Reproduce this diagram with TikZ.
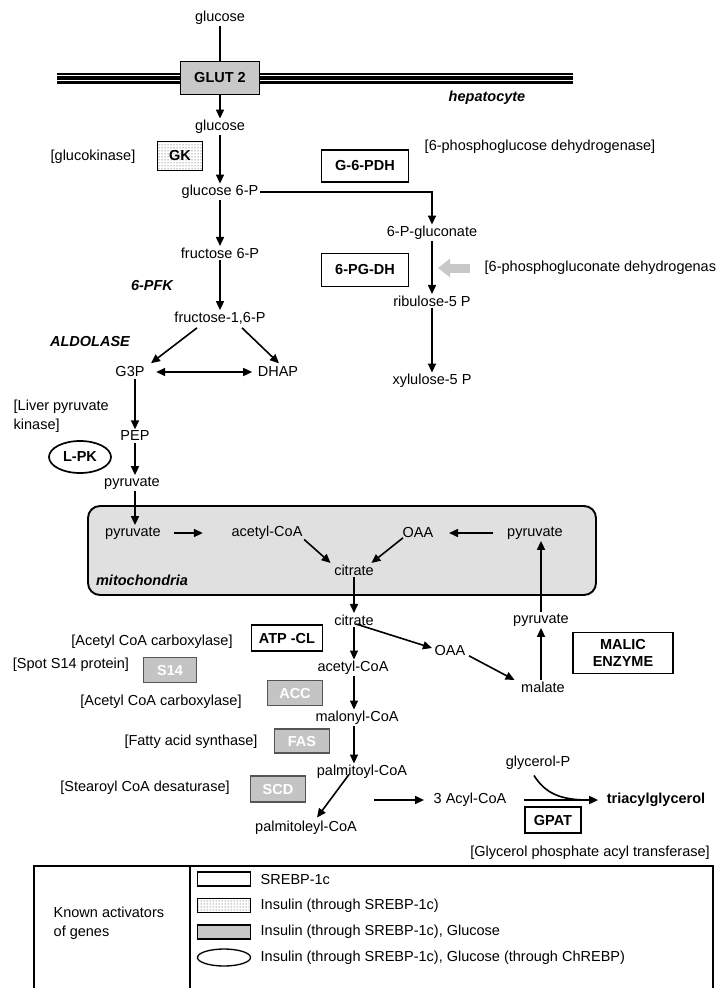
\documentclass[tikz,border=0pt]{standalone}
\usepackage{fontspec}
\setmainfont{Liberation Sans}
\usetikzlibrary{arrows.meta,patterns,shapes.geometric,calc}
\newcommand\lblfont{\fontsize{14.5}{17}\selectfont}
\definecolor{boxgray}{RGB}{200,200,200}
\definecolor{mitogray}{RGB}{224,224,224}
\definecolor{enzgray}{RGB}{196,196,196}
\definecolor{enzedge}{RGB}{85,85,85}
\definecolor{arrgray}{RGB}{200,200,200}
\begin{document}
\begin{tikzpicture}[x=1pt,y=-1pt,
  lbl/.style={font=\lblfont, inner sep=1.5pt},
  blbl/.style={font=\lblfont\bfseries, inner sep=1.5pt},
  bilbl/.style={font=\lblfont\bfseries\itshape, inner sep=1.5pt},
  enz/.style={draw, line width=1.7pt, fill=white, font=\lblfont\bfseries, inner sep=0pt, align=center},
  genz/.style={draw=enzedge, line width=1.7pt, fill=enzgray, text=white, font=\lblfont\bfseries, inner sep=0pt},
  arr/.style={-{Triangle[length=9pt,width=8pt]}, line width=1.6pt},
  arrb/.style={{Triangle[length=9pt,width=8pt]}-{Triangle[length=9pt,width=8pt]}, line width=1.6pt},
  garr/.style={-{Triangle[length=12pt,width=18pt]}, line width=9pt, draw=arrgray, color=arrgray},
  legbox/.style={draw, line width=1.3pt, inner sep=0pt, minimum width=53pt, minimum height=14pt}]
\useasboundingbox (0,0) rectangle (716,988);

% membrane
\draw[line width=11pt] (57,78) -- (573,78);
\draw[white, line width=1.1pt] (57,75.3) -- (573,75.3);
\draw[white, line width=1.1pt] (57,80.7) -- (573,80.7);

% top part
\node[lbl] (glu0) at (220,18) {glucose};
\node[enz, fill=boxgray, minimum width=79pt, minimum height=33pt] (glut) at (220,78) {GLUT 2};
\draw[line width=1.1pt] (glu0.south) -- (glut.north);
\node[bilbl] (hep) at (487,98) {hepatocyte};
\node[lbl] (glu1) at (220,127) {glucose};
\node[lbl] (gkl) at (93,157) {[glucokinase]};
\node[draw, line width=1.7pt, preaction={fill=white}, pattern=dots, pattern color=black!80, minimum width=45pt, minimum height=29pt, inner sep=0pt] (gk) at (180,156) {};
\node[font=\lblfont\bfseries] at (gk) {GK};
\node[enz, minimum width=87pt, minimum height=32pt] (g6pdh) at (365,166) {G-6-PDH};
\node[lbl] (g6pdhl) at (540,147) {[6-phosphoglucose dehydrogenase]};
\node[lbl] (g6p) at (220,192) {glucose 6-P};
\node[lbl] (pg) at (432,233) {6-P-gluconate};
\node[lbl] (f6p) at (220,253) {fructose 6-P};
\node[enz, minimum width=87pt, minimum height=33pt] (pgdh) at (365,270) {6-PG-DH};
\node[lbl, anchor=west] (pgdhl) at (483,268) {[6-phosphogluconate dehydrogenas};
\node[lbl] (ribu) at (432,301) {ribulose-5 P};
\node[lbl] (xyl) at (432,381) {xylulose-5 P};
\node[bilbl] (pfk) at (152,286) {6-PFK};
\node[lbl] (f16p) at (220,318) {fructose-1,6-P};
\node[bilbl] (ald) at (90,342) {ALDOLASE};
\node[lbl] (g3p) at (130,372) {G3P};
\node[lbl] (dhap) at (278,372) {DHAP};
\node[lbl, anchor=north west, align=left, font=\fontsize{14.5}{19}\selectfont] (lpkl) at (12,398) {[Liver pyruvate\\kinase]};
\node[lbl] (pep) at (135,436) {PEP};
\node[draw, ellipse, line width=1.7pt, minimum width=62pt, minimum height=32pt, inner sep=0pt, font=\lblfont\bfseries] (lpk) at (80,457) {L-PK};
\node[lbl] (pyr0) at (132,483) {pyruvate};

\draw[arr] (glut.south) -- (glu1.north);
\draw[arr] (glu1.south) -- (g6p.north);
\draw[arr] (g6p.east) -| (pg.north);
\draw[arr] (g6p.south) -- (f6p.north);
\draw[arr] (f6p.south) -- (f16p.north);
\draw[arr] (pg.south) -- (ribu.north);
\draw[arr] (ribu.south) -- (xyl.north);
\draw[garr] ($(pgdhl.west)+(-13,0)$) coordinate (gs) -- ++(-32,0) coordinate (ge);
\draw[arr] ($(f16p.south)+(-23,2)$) -- ($(g3p.north)+(21,-2)$);
\draw[arr] ($(f16p.south)+(22,2)$) -- ($(dhap.north)+(1,-2)$);
\draw[arrb, shorten <=10pt, shorten >=4pt] (g3p.east) -- (dhap.west);
\draw[arr] (g3p.south -| pep.north) -- (pep.north);
\draw[arr] (pep.south) -- (pyr0.north -| pep.south);

% mitochondria
\draw[line width=1.9pt, fill=mitogray, rounded corners=12pt] (88,506) rectangle (596,595);
\node[lbl] (pyr1) at (133,533) {pyruvate};
\node[lbl] (acoa1) at (267,533) {acetyl-CoA};
\node[lbl] (oaa1) at (418,533) {OAA};
\node[lbl] (pyr2) at (535,533) {pyruvate};
\node[lbl] (cit1) at (354,570) {citrate};
\node[bilbl] (mitol) at (142,580) {mitochondria};
\draw[arr] (pyr0.south -| pep.south) -- (pyr1.north -| pep.south);
\draw[arr] ($(pyr1.east)+(11,0)$) -- ($(acoa1.west)+(-27,0)$);
\draw[arr] ($(pyr2.west)+(-12,0)$) -- ($(oaa1.east)+(14,0)$);
\draw[arr] ($(acoa1.south east)+(0,-2)$) -- ($(cit1.north west)+(-2,0)$);
\draw[arr] ($(oaa1.south west)+(2,-2)$) -- ($(cit1.north east)+(-4,0)$);

% cytosol lower
\node[lbl] (cit2) at (354,620) {citrate};
\node[lbl] (pyr3) at (541,620) {pyruvate};
\node[lbl] (acll) at (152,642) {[Acetyl CoA carboxylase]};
\node[enz, minimum width=71pt, minimum height=26pt] (atpcl) at (287,638) {ATP -CL};
\node[lbl] (oaa2) at (450,650) {OAA};
\node[enz, minimum width=100pt, minimum height=41pt, font={\fontsize{14.5}{17}\selectfont\bfseries}] (malic) at (623,653) {MALIC\\ENZYME};
\node[lbl] (s14l) at (71,665) {[Spot S14 protein]};
\node[genz, minimum width=53pt, minimum height=25pt] (s14) at (170,670) {S14};
\node[lbl] (acoa2) at (353,668) {acetyl-CoA};
\node[lbl] (mal) at (543,687) {malate};
\node[lbl] (accl) at (161,702) {[Acetyl CoA carboxylase]};
\node[genz, minimum width=55pt, minimum height=25pt] (acc) at (295,693) {ACC};
\node[lbl] (malo) at (357,718) {malonyl-CoA};
\node[lbl] (fasl) at (191,742) {[Fatty acid synthase]};
\node[genz, minimum width=55pt, minimum height=24pt] (fas) at (302,741) {FAS};
\node[lbl] (palm) at (362,772) {palmitoyl-CoA};
\node[lbl] (scdl) at (145,788) {[Stearoyl CoA desaturase]};
\node[genz, minimum width=55pt, minimum height=26pt] (scd) at (278,789) {SCD};
\node[lbl] (palmo) at (306,828) {palmitoleyl-CoA};
\node[lbl] (acyl) at (470,800) {3 Acyl-CoA};
\node[lbl] (glyp) at (538,763) {glycerol-P};
\node[blbl] (tag) at (656,800) {triacylglycerol};
\node[enz, minimum width=56pt, minimum height=26pt] (gpat) at (553,820) {GPAT};
\node[lbl] (gpatl) at (590,853) {[Glycerol phosphate acyl transferase]};
\coordinate (fa) at (374,800);
\coordinate (mg) at (588,800);

\draw[arr] (cit1.south) -- (cit2.north);
\draw[arr] (pyr3.north) -- (pyr3.north |- pyr2.south);
\draw[arr] (mal.north -| pyr3.north) -- (pyr3.south);
\draw[arr] (cit2.south) -- (acoa2.north -| cit2.south);
\draw[arr] ($(cit2.south)+(2,-3)$) -- ($(oaa2.west)+(-1,-2)$);
\draw[arr] ($(oaa2.south east)+(2,-1)$) -- ($(mal.north west)+(-5,0)$);
\draw[arr] (acoa2.south -| cit2.south) -- (malo.north -| cit2.south);
\draw[arr] (malo.south -| cit2.south) -- (palm.north -| cit2.south);
\draw[arr] ($(palm.south)+(-13,-6)$) -- ($(palmo.north)+(11,-2)$);
\draw[arr, shorten >=8pt] (fa) -- (acyl.west);
\draw[arr, shorten <=16pt, shorten >=7pt] (acyl.east) -- (tag.west);
\draw[line width=1.6pt] ($(glyp.south)+(-4,4)$) .. controls (545,793) and (560,800) .. (mg);

% legend
\draw[line width=1.3pt] (34,866) rectangle (713,995);
\draw[line width=1.3pt] (190,866) -- (190,995);
\node[lbl, anchor=west, align=left, font=\fontsize{14.5}{19}\selectfont] (kal) at (52,923) {Known activators\\of genes};
\node[legbox] (l1) at (224,879) {};
\node[legbox, preaction={fill=white}, pattern=dots, pattern color=black!80] (l2) at (224,905.5) {};
\node[legbox, fill=boxgray] (l3) at (224,932) {};
\node[draw, ellipse, line width=1.3pt, minimum width=53pt, minimum height=17pt, inner sep=0pt] (l4) at (224,957.5) {};
\node[lbl, anchor=west] (t1) at (259,879) {SREBP-1c};
\node[lbl, anchor=west] (t2) at (259,905.5) {Insulin (through SREBP-1c)};
\node[lbl, anchor=west] (t3) at (259,932) {Insulin (through SREBP-1c), Glucose};
\node[lbl, anchor=west] (t4) at (259,957.5) {Insulin (through SREBP-1c), Glucose (through ChREBP)};
\end{tikzpicture}
\end{document}
